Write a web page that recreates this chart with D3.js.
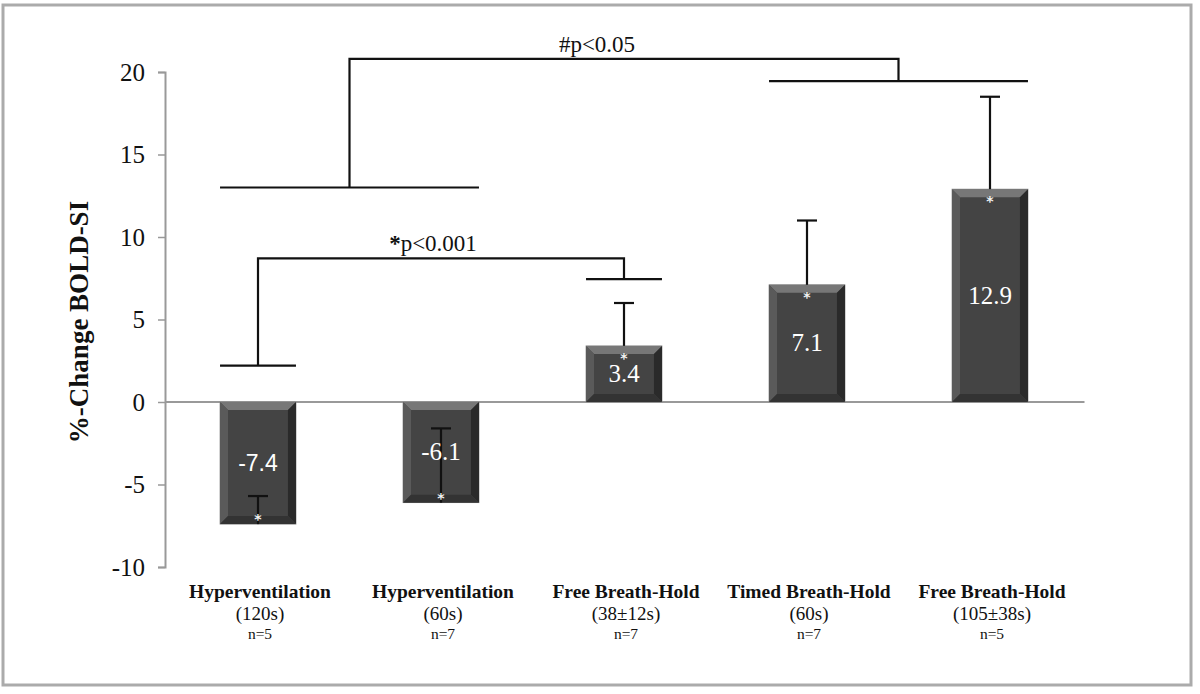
<!DOCTYPE html>
<html>
<head>
  <meta charset="utf-8">
  <title>BOLD-SI change by breathing manoeuvre</title>
  <script src="https://d3js.org/d3.v7.min.js"></script>
  <style>
    body { margin: 0; background: #fff; }
    svg text { font-family: "Liberation Serif", "Times New Roman", serif; }
  </style>
</head>
<body>
  <div id="chart"></div>
  <script>
    // data
    var categories = ["Hyperventilation", "Hyperventilation", "Free Breath-Hold", "Timed Breath-Hold", "Free Breath-Hold"];
    var durations = ["(120s)", "(60s)", "(38\u00b112s)", "(60s)", "(105\u00b138s)"];
    var counts = ["n=5", "n=7", "n=7", "n=7", "n=5"];
    var means = [-7.4, -6.1, 3.4, 7.1, 12.9];
    var errors = [1.7, 4.5, 2.6, 3.9, 5.6];
    var yTicks = [-10, -5, 0, 5, 10, 15, 20];

    // significance brackets: bars spanned by each leg, leg heights and top level
    var brackets = [
      { label: "p<0.001", mark: "*", left: [0, 0], right: [2, 2], leftLevel: 2.2, rightLevel: 7.45, top: 8.7 },
      { label: "p<0.05", mark: "#", left: [0, 1], right: [3, 4], leftLevel: 13.0, rightLevel: 19.45, top: 20.8 }
    ];

    var width = 1200, height = 694;
    var svg = d3.select("#chart").append("svg")
      .attr("width", width)
      .attr("height", height);

    // outer frame
    svg.append("rect")
      .attr("x", 3).attr("y", 5)
      .attr("width", 1188).attr("height", 680)
      .attr("fill", "none")
      .attr("stroke", "#ababab")
      .attr("stroke-width", 3);

    var y = d3.scaleLinear().domain([-10, 20]).range([567, 72]);
    var x = d3.scaleBand()
      .domain(d3.range(categories.length))
      .range([166.5, 1081.5])
      .paddingInner(0.585)
      .paddingOuter(0.2925);

    var axisX = 165;

    // y axis
    var yAxis = svg.append("g")
      .attr("transform", "translate(" + axisX + ",0)")
      .call(d3.axisLeft(y).tickValues(yTicks).tickSize(7).tickPadding(13)
        .tickFormat(function(d) { return String(d); }));
    yAxis.select(".domain").attr("stroke", "#999").attr("stroke-width", 2);
    yAxis.selectAll(".tick line").attr("stroke", "#999").attr("stroke-width", 1.5);
    yAxis.selectAll(".tick text")
      .attr("fill", "#111")
      .style("font-size", "25px")
      .style("font-family", "'Liberation Serif', serif");

    // zero line
    svg.append("line")
      .attr("x1", axisX).attr("x2", x.range()[1] + 3)
      .attr("y1", y(0)).attr("y2", y(0))
      .attr("stroke", "#999")
      .attr("stroke-width", 2);

    // y title
    svg.append("text")
      .attr("transform", "translate(88,322) rotate(-90)")
      .attr("text-anchor", "middle")
      .style("font-size", "27px")
      .style("font-weight", "bold")
      .attr("fill", "#111")
      .text("%-Change BOLD-SI");

    // bevelled bars
    var bev = 8;
    var bars = svg.append("g").selectAll("g")
      .data(means)
      .join("g");

    bars.each(function(d, i) {
      var g = d3.select(this);
      var x0 = x(i), x1 = x(i) + x.bandwidth();
      var t = Math.min(y(d), y(0)), b = Math.max(y(d), y(0));
      g.append("rect")
        .attr("x", x0).attr("y", t)
        .attr("width", x1 - x0).attr("height", b - t)
        .attr("fill", "#444")
        .attr("stroke", "#8a8a8a")
        .attr("stroke-width", 0.8);
      var faces = [
        { pts: [[x0, t], [x1, t], [x1 - bev, t + bev], [x0 + bev, t + bev]], fill: "#777" },
        { pts: [[x0, t], [x0 + bev, t + bev], [x0 + bev, b - bev], [x0, b]], fill: "#5a5a5a" },
        { pts: [[x1, t], [x1, b], [x1 - bev, b - bev], [x1 - bev, t + bev]], fill: "#2a2a2a" },
        { pts: [[x0, b], [x0 + bev, b - bev], [x1 - bev, b - bev], [x1, b]], fill: "#333" }
      ];
      faces.forEach(function(f) {
        g.append("polygon")
          .attr("points", f.pts.map(function(p) { return p.join(","); }).join(" "))
          .attr("fill", f.fill);
      });
    });

    // error bars
    var cap = 10;
    means.forEach(function(d, i) {
      var cx = x(i) + x.bandwidth() / 2;
      var end = d + errors[i];
      svg.append("line")
        .attr("x1", cx).attr("x2", cx)
        .attr("y1", y(d)).attr("y2", y(end))
        .attr("stroke", "#111").attr("stroke-width", 2.2);
      svg.append("line")
        .attr("x1", cx - cap).attr("x2", cx + cap)
        .attr("y1", y(end)).attr("y2", y(end))
        .attr("stroke", "#111").attr("stroke-width", 2.2);
    });

    // white asterisks at bar ends
    svg.append("g").selectAll("text")
      .data(means)
      .join("text")
      .attr("x", function(d, i) { return x(i) + x.bandwidth() / 2; })
      .attr("y", function(d) { return d < 0 ? y(d) : y(d) + 17; })
      .attr("text-anchor", "middle")
      .attr("fill", "#f4f4f4")
      .style("font-size", "14px")
      .style("font-family", "'DejaVu Sans', sans-serif")
      .style("font-weight", "bold")
      .text("*");

    // value labels
    svg.append("g").selectAll("text")
      .data(means)
      .join("text")
      .attr("x", function(d, i) { return x(i) + x.bandwidth() / 2; })
      .attr("y", function(d) { return (y(d) + y(0)) / 2 + 8; })
      .attr("text-anchor", "middle")
      .attr("fill", "#fff")
      .style("font-size", function(d, i) { return i === 0 ? "23px" : "25px"; })
      .style("font-family", function(d, i) { return i === 0 ? "'Liberation Sans', sans-serif" : "'Liberation Serif', serif"; })
      .text(function(d) { return d.toFixed(1); });

    // significance brackets
    var labelDx = [-8, -27];
    var bg = svg.append("g")
      .attr("fill", "none")
      .attr("stroke", "#111")
      .attr("stroke-width", 2.2);
    brackets.forEach(function(br, k) {
      var lx0 = x(br.left[0]), lx1 = x(br.left[1]) + x.bandwidth();
      var rx0 = x(br.right[0]), rx1 = x(br.right[1]) + x.bandwidth();
      var lm = (lx0 + lx1) / 2, rm = (rx0 + rx1) / 2;
      bg.append("line").attr("x1", lx0).attr("x2", lx1)
        .attr("y1", y(br.leftLevel)).attr("y2", y(br.leftLevel));
      bg.append("line").attr("x1", rx0).attr("x2", rx1)
        .attr("y1", y(br.rightLevel)).attr("y2", y(br.rightLevel));
      bg.append("path")
        .attr("d", "M" + lm + "," + y(br.leftLevel) + "V" + y(br.top) + "H" + rm + "V" + y(br.rightLevel));
      var t = svg.append("text")
        .attr("x", (lm + rm) / 2 + labelDx[k])
        .attr("y", y(br.top) - 7)
        .attr("text-anchor", "middle")
        .attr("fill", "#111")
        .style("font-size", "23px");
      t.append("tspan")
        .style("font-weight", br.mark === "*" ? "bold" : "normal")
        .text(br.mark);
      t.append("tspan").text(br.label);
    });

    // category labels
    var cl = svg.append("g").selectAll("g")
      .data(categories)
      .join("g")
      .attr("transform", function(d, i) { return "translate(" + (x(i) + x.bandwidth() / 2 + 2) + ",0)"; })
      .attr("text-anchor", "middle")
      .attr("fill", "#111");
    cl.append("text").attr("y", 598)
      .style("font-size", "19.5px").style("font-weight", "bold")
      .text(function(d) { return d; });
    cl.append("text").attr("y", 620)
      .style("font-size", "19px")
      .text(function(d, i) { return durations[i]; });
    cl.append("text").attr("y", 639)
      .style("font-size", "15.5px")
      .text(function(d, i) { return counts[i]; });
  </script>
</body>
</html>
